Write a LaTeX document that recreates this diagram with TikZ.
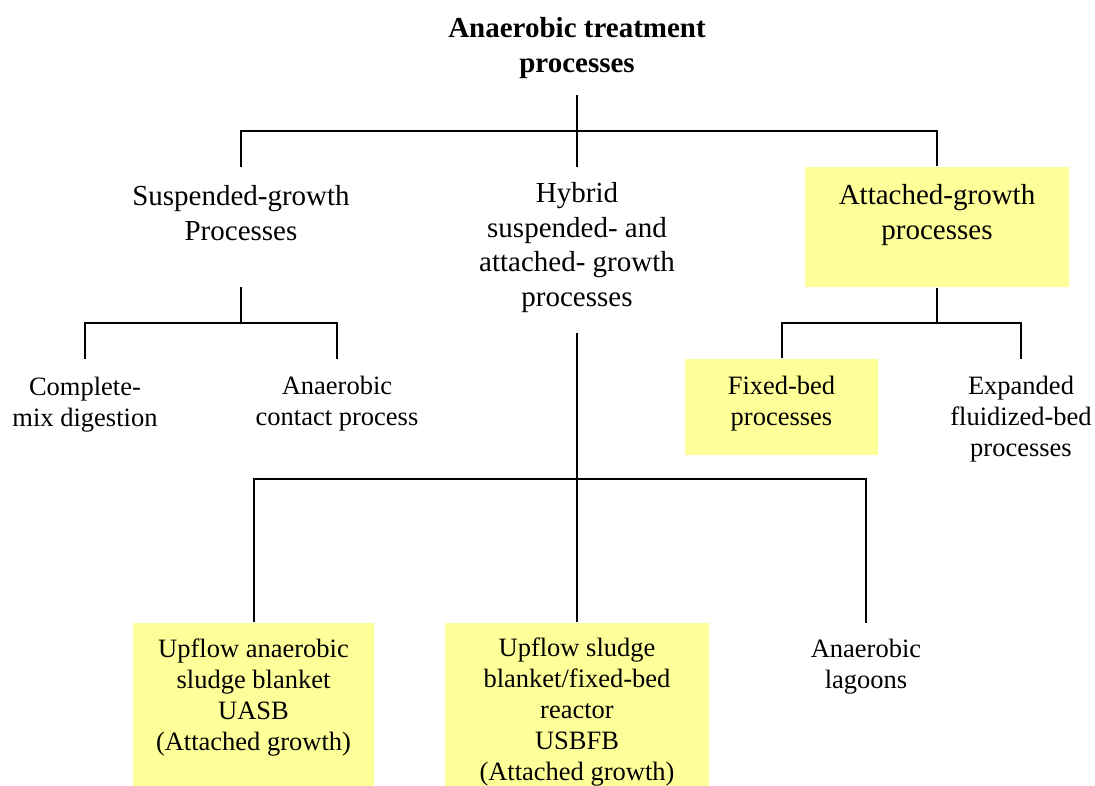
\documentclass[tikz,border=0pt]{standalone}
\usepackage{fontspec}
\setmainfont{Liberation Serif}
\definecolor{hilite}{RGB}{255,255,153}
\begin{document}
\begin{tikzpicture}[x=1pt,y=-1pt,line width=2pt,
  ttl/.style={align=center,inner sep=0pt,font=\bfseries\fontsize{29}{35}\selectfont},
  big/.style={align=center,inner sep=0pt,font=\fontsize{29}{34.7}\selectfont},
  small/.style={align=center,inner sep=0pt,font=\fontsize{26.5}{31}\selectfont},
  ybox/.style={fill=hilite,draw=none,inner sep=0pt}]
\useasboundingbox (0,0) rectangle (1095,786);

% highlighted boxes
\node[ybox,minimum width=264pt,minimum height=120pt] (attbox) at (937,227) {};
\node[ybox,minimum width=193pt,minimum height=96pt] (fbbox) at (781.5,407) {};
\node[ybox,minimum width=241pt,minimum height=163pt] (uasbbox) at (253.5,704.5) {};
\node[ybox,minimum width=264pt,minimum height=163pt] (usbbox) at (577,704.5) {};

% texts
\node[ttl] (root) at (577,48.5) {Anaerobic treatment\\processes};
\node[big] (susp) at (241,213) {Suspended-growth\\Processes};
\node[big] (hyb) at (577,247.5) {Hybrid\\suspended- and\\attached- growth\\processes};
\node[big] (att) at (937,215) {Attached-growth\\processes};
\node[small] (cmd) at (85,405) {Complete-\\mix digestion};
\node[small] (acp) at (337,404) {Anaerobic\\contact process};
\node[small] (fb) at (781.5,404) {Fixed-bed\\processes};
\node[small] (efb) at (1021,419) {Expanded\\fluidized-bed\\processes};
\node[small] (uasb) at (253.5,698) {Upflow anaerobic\\sludge blanket\\UASB\\(Attached growth)};
\node[small] (usb) at (577,712) {Upflow sludge\\blanket/fixed-bed\\reactor\\USBFB\\(Attached growth)};
\node[small] (lag) at (866,667) {Anaerobic\\lagoons};

% tree connectors
\draw (root.south |- 0,95) -- (root.south |- 0,131);
\draw (susp.north |- 0,167) |- (att.north |- 0,131) -- (attbox.north);
\draw (hyb.north |- 0,131) -- (hyb.north |- 0,167);

\draw (susp.south |- 0,287) -- (susp.south |- 0,323);
\draw (cmd.north |- 0,359) |- (acp.north |- 0,323) -- (acp.north |- 0,359);

\draw (attbox.south) -- (attbox.south |- 0,323);
\draw (fbbox.north) |- (efb.north |- 0,323) -- (efb.north |- 0,359);

\draw (hyb.south |- 0,333) -- (usbbox.north);
\draw (uasbbox.north) |- (lag.north |- 0,479) -- (lag.north |- 0,623);
\end{tikzpicture}
\end{document}
